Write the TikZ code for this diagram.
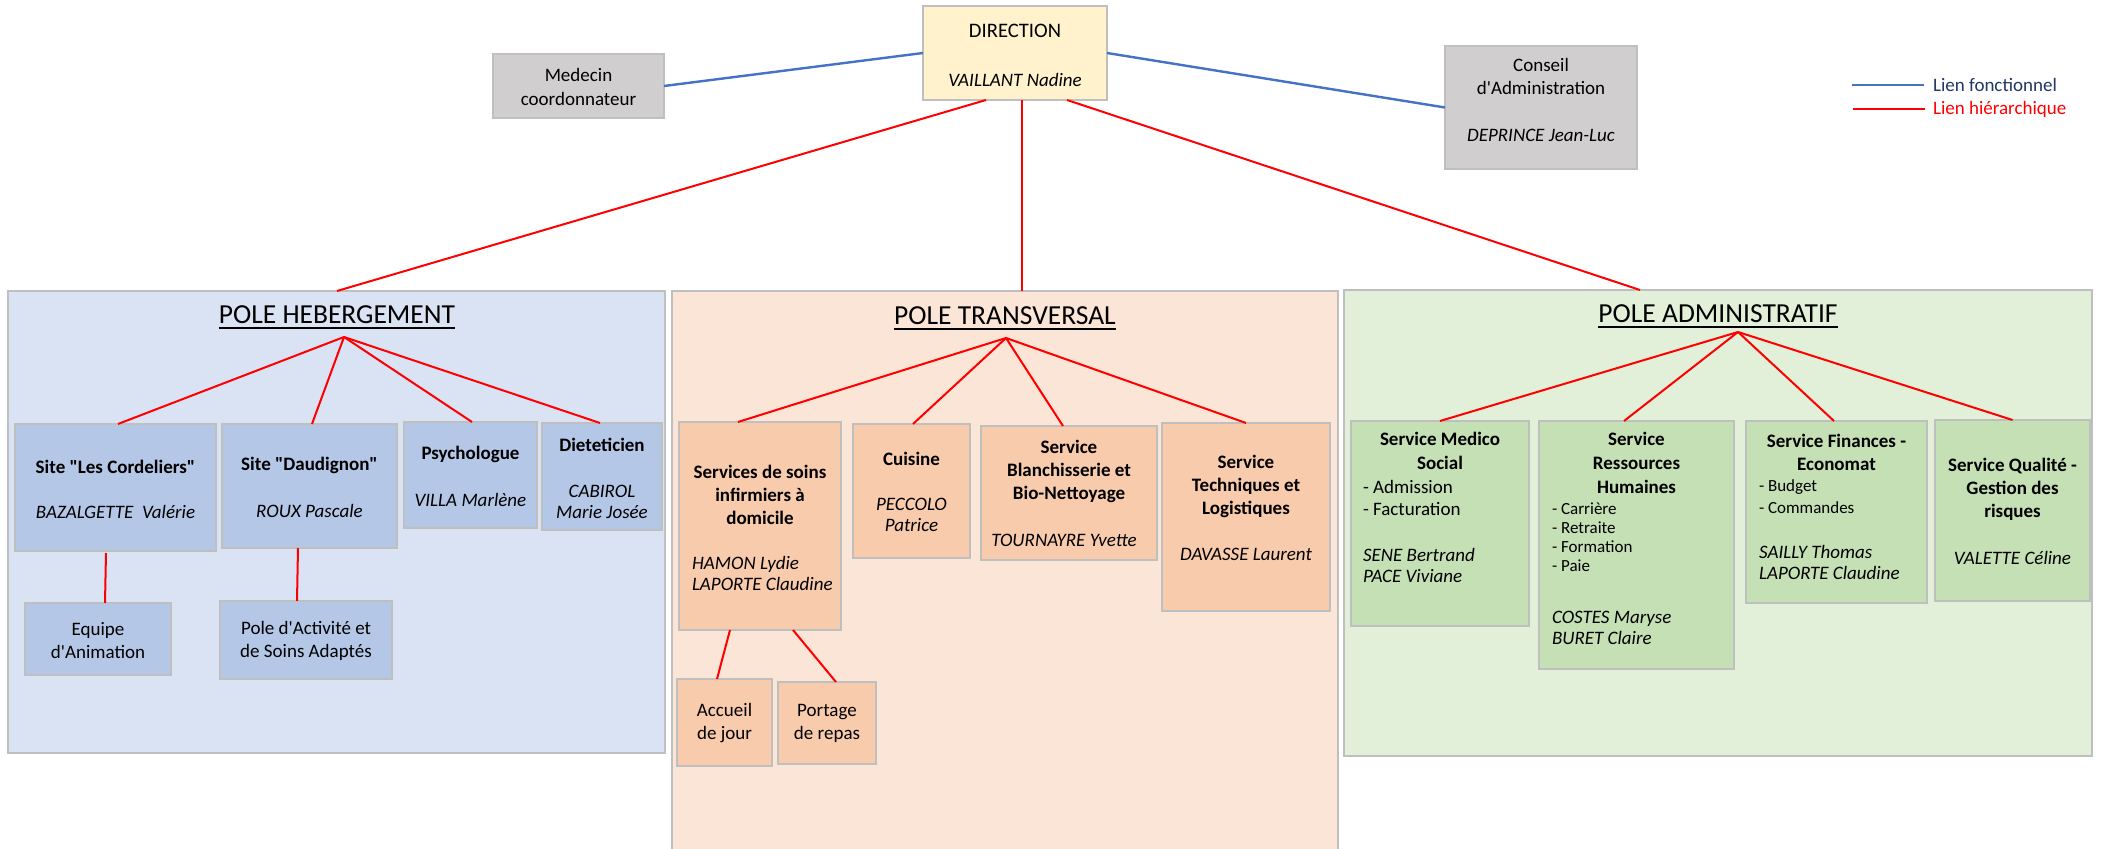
\documentclass[tikz,border=0pt]{standalone}
\usepackage{fontspec}
\setmainfont{Carlito}
\usetikzlibrary{calc}
\definecolor{bord}{HTML}{BFBFBF}
\definecolor{dirfill}{HTML}{FFF2CC}
\definecolor{grayfill}{HTML}{D0CECE}
\definecolor{hpanel}{HTML}{DAE3F3}
\definecolor{hbox}{HTML}{B4C7E7}
\definecolor{tpanel}{HTML}{FBE5D6}
\definecolor{tbox}{HTML}{F8CBAD}
\definecolor{apanel}{HTML}{E2F0D9}
\definecolor{abox}{HTML}{C5E0B4}
\definecolor{fblue}{HTML}{4472C4}
\definecolor{navy}{HTML}{1F3864}
\newcommand\mkbox[6]{\node[bx=#6, minimum width={(#4-#2)*0.5pt}, minimum height={(#5-#3)*0.5pt}] (#1) at ({(#2+#4)/2},{(#3+#5)/2}) {};}
\begin{document}
\begin{tikzpicture}[x=0.5pt,y=-0.5pt,
  every node/.style={inner sep=0pt, outer sep=0pt},
  bx/.style={draw=bord, line width=1pt, fill=#1},
  hier/.style={draw=red, line width=1pt},
  fonc/.style={draw=fblue, line width=1.2pt},
  bt/.style={font=\fontsize{9.5}{11.5}\selectfont\bfseries, align=center},
  it/.style={font=\fontsize{9.5}{10.5}\selectfont\itshape, align=center},
  itl/.style={font=\fontsize{9.5}{10.5}\selectfont\itshape, align=left, anchor=west},
  rt/.style={font=\fontsize{9.5}{11.7}\selectfont, align=center},
  rtl/.style={font=\fontsize{9.5}{11}\selectfont, align=left, anchor=west},
  st/.style={font=\fontsize{8.5}{9.5}\selectfont, align=left, anchor=west},
  ttl/.style={font=\fontsize{13.75}{16}\selectfont, anchor=base},
  uline/.style={draw=black, line width=1pt}]
\useasboundingbox (0,0) rectangle (2102,849);
\fill[white] (0,0) rectangle (2102,849);
\clip (0,0) rectangle (2102,849);

% panels
\mkbox{ph}{8}{291}{665}{753}{hpanel}
\mkbox{pt}{672}{291}{1338}{880}{tpanel}
\mkbox{pa}{1344}{290}{2092}{756}{apanel}

% top boxes
\mkbox{dir}{923}{6}{1107}{100}{dirfill}
\mkbox{med}{493}{54}{664}{118}{grayfill}
\mkbox{cons}{1445}{46}{1637}{169}{grayfill}
\node[rt, font=\fontsize{10.3}{12}\selectfont] (dirt) at (1015,31) {DIRECTION};
\node[it] (dirn) at (1015,80) {VAILLANT Nadine};
\node[rt, font=\fontsize{9.5}{12}\selectfont] (medt) at (578.5,87) {Medecin\\coordonnateur};
\node[rt, font=\fontsize{9.5}{11.5}\selectfont] (const) at (1541,76.5) {Conseil\\d\textquotesingle Administration};
\node[it] (consn) at (1541,135) {DEPRINCE Jean-Luc};

% legend
\node[anchor=west, font=\fontsize{9.5}{11}\selectfont, text=navy] (lg1) at (1933,85) {Lien fonctionnel};
\node[anchor=west, font=\fontsize{9.5}{11}\selectfont, text=red] (lg2) at (1933,109) {Lien hi\'erarchique};
\draw[fonc] ($(lg1.west)+(-81,0)$) -- ($(lg1.west)+(-9,0)$);
\draw[hier] ($(lg2.west)+(-80,0)$) -- ($(lg2.west)+(-8,0)$);

% top connectors
\draw[fonc] (med.east) -- (dir.west);
\draw[fonc] (dir.east) -- (cons.west);
\draw[hier] ($(dir.south)+(-29,0)$) -- ($(ph.north west)+(329,0)$);
\draw[hier] ($(dir.south)+(7,0)$) -- ($(pt.north west)+(350,0)$);
\draw[hier] ($(dir.south)+(52,0)$) -- ($(pa.north west)+(296,0)$);

% titles
\node[ttl] (th) at (337,324) {POLE HEBERGEMENT};
\draw[uline] ($(th.base west)+(0,4.5)$) -- ($(th.base east)+(0,4.5)$);
\node[ttl] (tt) at (1005,325) {POLE TRANSVERSAL};
\draw[uline] ($(tt.base west)+(0,4.5)$) -- ($(tt.base east)+(0,4.5)$);
\node[ttl] (ta) at (1718,323) {POLE ADMINISTRATIF};
\draw[uline] ($(ta.base west)+(0,4.5)$) -- ($(ta.base east)+(0,4.5)$);
\coordinate (fh) at (344,337);
\coordinate (ft) at (1006,338);
\coordinate (fa) at (1738,332);

% ---------- HEBERGEMENT ----------
\mkbox{cord}{15}{424}{216}{551}{hbox}
\mkbox{daud}{222}{424}{397}{548}{hbox}
\mkbox{psy}{404}{422}{537}{528}{hbox}
\mkbox{diet}{542}{423}{662}{530}{hbox}
\mkbox{equ}{25}{603}{171}{675}{hbox}
\mkbox{pasa}{220}{601}{392}{679}{hbox}
\node[bt] (cordt) at (115.5,467) {Site \textquotedbl Les Cordeliers\textquotedbl};
\node[it] (cordn) at (115.5,512) {BAZALGETTE\ \ Val\'erie};
\node[bt] (daudt) at (309.5,465) {Site \textquotedbl Daudignon\textquotedbl};
\node[it] (daudn) at (309.5,511) {ROUX Pascale};
\node[bt] (psyt) at (470.5,454) {Psychologue};
\node[it] (psyn) at (470.5,500) {VILLA Marl\`ene};
\node[bt] (diet-t) at (602,445) {Dieteticien};
\node[it] (dietn) at (602,501.5) {CABIROL\\Marie Jos\'ee};
\node[rt, font=\fontsize{9.5}{11.5}\selectfont] (equt) at (98,640.5) {Equipe\\d\textquotesingle Animation};
\node[rt, font=\fontsize{9.5}{11.5}\selectfont] (pasat) at (306,640.5) {Pole d\textquotesingle Activit\'e et\\de Soins Adapt\'es};
\draw[hier] (fh) -- ($(cord.north)+(2.5,0)$);
\draw[hier] (fh) -- ($(daud.north)+(2.5,0)$);
\draw[hier] (fh) -- ($(psy.north)+(1.5,0)$);
\draw[hier] (fh) -- ($(diet.north)+(-2,0)$);
\draw[hier] ($(cord.south)+(-9.5,2)$) -- ($(equ.north)+(7,0)$);
\draw[hier] ($(daud.south)+(-11.5,0)$) -- ($(pasa.north)+(-9,0)$);

% ---------- TRANSVERSAL ----------
\mkbox{ssiad}{679}{422}{841}{630}{tbox}
\mkbox{cuis}{853}{424}{970}{558}{tbox}
\mkbox{blan}{981}{426}{1157}{560}{tbox}
\mkbox{tech}{1162}{423}{1330}{611}{tbox}
\mkbox{acc}{677}{679}{772}{766}{tbox}
\mkbox{port}{778}{682}{876}{764}{tbox}
\node[bt] (ssiadt) at (760,494.5) {Services de soins\\infirmiers \`a\\domicile};
\node[itl] (ssiadn) at (692,573) {HAMON Lydie\\LAPORTE Claudine};
\node[bt] (cuist) at (911.5,459) {Cuisine};
\node[it] (cuisn) at (911.5,515) {PECCOLO\\Patrice};
\node[bt] (blant) at (1069,471) {Service\\Blanchisserie et\\Bio-Nettoyage};
\node[it] (blann) at (1064,540) {TOURNAYRE Yvette};
\node[bt] (techt) at (1246,486) {Service\\Techniques et\\Logistiques};
\node[it] (techn) at (1246,554.5) {DAVASSE Laurent};
\node[rt, font=\fontsize{9.5}{11.5}\selectfont] (acct) at (724.5,723.5) {Accueil\\de jour};
\node[rt, font=\fontsize{9.5}{11.5}\selectfont] (portt) at (827,723.5) {Portage\\de repas};
\draw[hier] (ft) -- ($(ssiad.north)+(-22,0)$);
\draw[hier] (ft) -- ($(cuis.north)+(1.5,0)$);
\draw[hier] (ft) -- ($(blan.north)+(-6,0)$);
\draw[hier] (ft) -- (tech.north);
\draw[hier] ($(ssiad.south)+(-30,0)$) -- ($(acc.north)+(-7.5,0)$);
\draw[hier] ($(ssiad.south)+(33,0)$) -- ($(port.north)+(9,0)$);

% ---------- ADMINISTRATIF ----------
\mkbox{medi}{1351}{421}{1529}{626}{abox}
\mkbox{rh}{1539}{421}{1734}{669}{abox}
\mkbox{fin}{1746}{421}{1927}{603}{abox}
\mkbox{qual}{1935}{420}{2090}{601}{abox}
\node[bt, font=\fontsize{9.5}{12}\selectfont\bfseries] (medit) at (1440,451) {Service Medico\\Social};
\node[rtl] (medil) at (1363,498) {- Admission\\- Facturation};
\node[itl] (medin) at (1363,565.5) {SENE Bertrand\\PACE Viviane};
\node[bt, font=\fontsize{9.5}{12}\selectfont\bfseries] (rht) at (1636.5,463) {Service\\Ressources\\Humaines};
\node[st] (rhl) at (1552,537.5) {- Carri\`ere\\- Retraite\\- Formation\\- Paie};
\node[itl] (rhn) at (1552,627.5) {COSTES Maryse\\BURET Claire};
\node[bt, font=\fontsize{9.5}{11.5}\selectfont\bfseries] (fint) at (1836.5,452.5) {Service Finances -\\Economat};
\node[st, font=\fontsize{8.5}{11}\selectfont] (finl) at (1759,497) {- Budget\\- Commandes};
\node[itl] (finn) at (1759,562.5) {SAILLY Thomas\\LAPORTE Claudine};
\node[bt, font=\fontsize{9.5}{11.5}\selectfont\bfseries] (qualt) at (2012.5,489.5) {Service Qualit\'e -\\Gestion des\\risques};
\node[it] (qualn) at (2012.5,558) {VALETTE C\'eline};
\draw[hier] (fa) -- (medi.north);
\draw[hier] (fa) -- ($(rh.north)+(-12.5,0)$);
\draw[hier] (fa) -- ($(fin.north)+(-2.5,0)$);
\draw[hier] (fa) -- (qual.north);
\end{tikzpicture}
\end{document}
